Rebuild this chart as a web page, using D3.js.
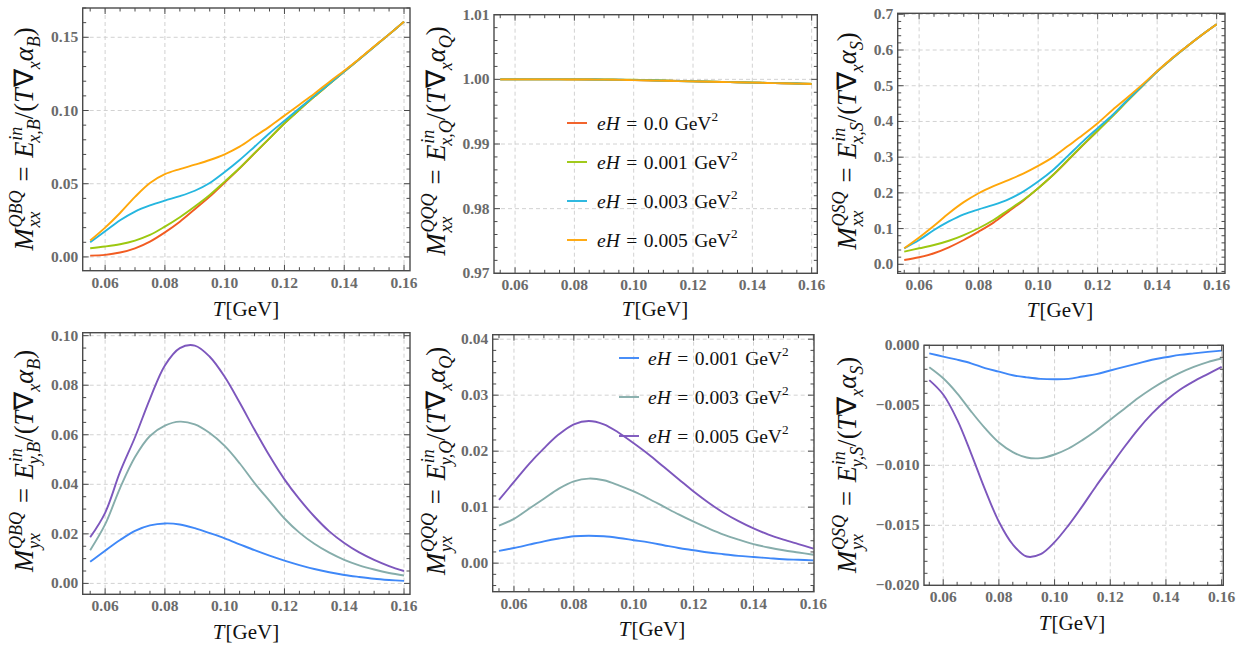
<!DOCTYPE html>
<html><head><meta charset="utf-8">
<script src="https://cdn.jsdelivr.net/npm/d3@7"></script>
<style>
body{margin:0;background:#fff;}
svg{display:block;}
svg text{font-family:"Liberation Serif","Times New Roman","Liberation Sans",sans-serif; white-space:pre;}
</style>
</head><body>
<svg id="c" width="1250" height="648"></svg>
<script>
// ---------------- data ----------------
const T = [0.055,0.060,0.065,0.070,0.075,0.080,0.085,0.090,0.095,0.100,0.105,0.110,0.115,0.120,0.125,0.130,0.135,0.140,0.145,0.150,0.155,0.160];

const topFields = ["0.0","0.001","0.003","0.005"];
const bottomFields = ["0.001","0.003","0.005"];
const topColors = ["#F25C22","#9CC810","#25B6DF","#FFA70A"];
const bottomColors = ["#3F88F8","#86ADAB","#7D57BD"];

// M_xx^{QBQ}
const xxB_0   = [0.0009,0.0014,0.0030,0.0059,0.0105,0.0168,0.0241,0.0326,0.0412,0.0508,0.0605,0.0708,0.0810,0.0913,0.1005,0.1095,0.1180,0.1266,0.1350,0.1435,0.1520,0.1607];
const xxB_001 = [0.0059,0.0071,0.0087,0.0112,0.0150,0.0207,0.0271,0.0344,0.0423,0.0514,0.0607,0.0709,0.0810,0.0913,0.1005,0.1095,0.1180,0.1266,0.1350,0.1435,0.1520,0.1607];
const xxB_003 = [0.0100,0.0175,0.0250,0.0310,0.0352,0.0385,0.0415,0.0452,0.0505,0.0580,0.0662,0.0753,0.0845,0.0930,0.1015,0.1100,0.1183,0.1267,0.1350,0.1435,0.1520,0.1607];
const xxB_005 = [0.0112,0.0200,0.0300,0.0410,0.0505,0.0565,0.0600,0.0630,0.0662,0.0701,0.0753,0.0822,0.0890,0.0965,0.1040,0.1115,0.1195,0.1272,0.1352,0.1437,0.1520,0.1607];

// M_xx^{QQQ}
const xxQ_0   = [1.00000,1.00000,1.00000,1.00000,1.00000,1.00000,0.99998,0.99996,0.99993,0.99990,0.99985,0.99980,0.99975,0.99970,0.99965,0.99960,0.99955,0.99950,0.99945,0.99940,0.99935,0.99930];
const xxQ_001 = [1.00000,1.00000,1.00000,1.00000,1.00000,1.00000,0.99999,0.99998,0.99996,0.99993,0.99988,0.99982,0.99976,0.99971,0.99966,0.99961,0.99956,0.99951,0.99946,0.99941,0.99936,0.99931];
const xxQ_003 = [1.00000,1.00000,1.00000,1.00000,1.00000,0.99999,0.99998,0.99996,0.99993,0.99989,0.99984,0.99979,0.99974,0.99969,0.99964,0.99959,0.99955,0.99950,0.99945,0.99940,0.99935,0.99930];
const xxQ_005 = [1.00000,1.00000,1.00000,1.00000,0.99999,0.99998,0.99997,0.99995,0.99992,0.99988,0.99983,0.99978,0.99973,0.99969,0.99964,0.99959,0.99954,0.99949,0.99944,0.99939,0.99934,0.99929];

// M_xx^{QSQ}
const xxS_0   = [0.0120,0.0196,0.0310,0.0476,0.0680,0.0915,0.1167,0.1475,0.1780,0.2130,0.2500,0.2910,0.3330,0.3740,0.4150,0.4575,0.4990,0.5400,0.5760,0.6100,0.6420,0.6720];
const xxS_001 = [0.0355,0.0448,0.0540,0.0660,0.0820,0.1010,0.1240,0.1520,0.1800,0.2130,0.2500,0.2920,0.3340,0.3740,0.4150,0.4575,0.4990,0.5400,0.5760,0.6100,0.6420,0.6720];
const xxS_003 = [0.0448,0.0680,0.0960,0.1200,0.1400,0.1540,0.1665,0.1820,0.2036,0.2316,0.2640,0.3035,0.3436,0.3810,0.4180,0.4600,0.5000,0.5400,0.5760,0.6100,0.6420,0.6720];
const xxS_005 = [0.0448,0.0750,0.1080,0.1430,0.1740,0.1990,0.2190,0.2360,0.2540,0.2755,0.3000,0.3310,0.3620,0.3950,0.4320,0.4670,0.5030,0.5410,0.5770,0.6100,0.6420,0.6720];

// M_yx^{QBQ}
const yxB_001 = [0.0087,0.0132,0.0175,0.0212,0.0234,0.0242,0.0238,0.0223,0.0203,0.0182,0.0158,0.0134,0.0112,0.0092,0.0074,0.0058,0.0045,0.0034,0.0026,0.0019,0.0014,0.0010];
const yxB_003 = [0.0134,0.0238,0.0385,0.0510,0.0595,0.0637,0.0653,0.0642,0.0607,0.0555,0.0485,0.0405,0.0333,0.0262,0.0205,0.0160,0.0124,0.0095,0.0073,0.0056,0.0042,0.0032];
const yxB_005 = [0.0186,0.0285,0.0450,0.0590,0.0745,0.0880,0.0950,0.0960,0.0915,0.0834,0.0730,0.0620,0.0515,0.0420,0.0340,0.0270,0.0210,0.0163,0.0125,0.0095,0.0070,0.0050];

// M_yx^{QQQ}
const yxQ_001 = [0.0022,0.0027,0.0033,0.0039,0.0044,0.0048,0.0049,0.0048,0.0045,0.0041,0.0037,0.0032,0.0027,0.0023,0.0019,0.0016,0.0013,0.0011,0.0009,0.0007,0.0006,0.0005];
const yxQ_003 = [0.0067,0.0079,0.0097,0.0115,0.0133,0.0146,0.0151,0.0148,0.0139,0.0128,0.0115,0.0101,0.0087,0.0074,0.0062,0.0051,0.0042,0.0034,0.0028,0.0023,0.0019,0.0015];
const yxQ_005 = [0.0113,0.0145,0.0177,0.0205,0.0230,0.0248,0.0254,0.0248,0.0233,0.0214,0.0194,0.0172,0.0150,0.0128,0.0108,0.0090,0.0075,0.0062,0.0051,0.0042,0.0034,0.0026];

// M_yx^{QSQ}
const yxS_001 = [-0.00067,-0.00094,-0.0012,-0.0015,-0.0019,-0.0022,-0.0025,-0.00267,-0.0028,-0.00283,-0.0028,-0.0026,-0.0024,-0.0021,-0.0018,-0.0015,-0.0012,-0.0010,-0.0008,-0.00067,-0.00055,-0.00044];
const yxS_003 = [-0.00183,-0.00275,-0.0040,-0.0055,-0.0069,-0.0081,-0.0089,-0.00935,-0.0094,-0.0091,-0.0086,-0.0079,-0.0071,-0.0062,-0.0053,-0.0044,-0.0036,-0.0029,-0.0023,-0.0018,-0.0014,-0.0011];
const yxS_005 = [-0.0029,-0.0041,-0.0062,-0.0090,-0.0120,-0.0147,-0.0166,-0.0176,-0.0174,-0.0164,-0.0150,-0.0134,-0.0117,-0.0101,-0.0085,-0.0070,-0.0057,-0.0046,-0.0037,-0.0030,-0.0024,-0.0018];

// ticks
const xTicks = [0.06,0.08,0.10,0.12,0.14,0.16];
const xTickLabels = ["0.06","0.08","0.10","0.12","0.14","0.16"];
const yTicks1 = [0,0.05,0.10,0.15];          const yLabels1 = ["0.00","0.05","0.10","0.15"];
const yTicks2 = [0.97,0.98,0.99,1.00,1.01];   const yLabels2 = ["0.97","0.98","0.99","1.00","1.01"];
const yTicks3 = [0,0.1,0.2,0.3,0.4,0.5,0.6,0.7]; const yLabels3 = ["0.0","0.1","0.2","0.3","0.4","0.5","0.6","0.7"];
const yTicks4 = [0,0.02,0.04,0.06,0.08,0.10]; const yLabels4 = ["0.00","0.02","0.04","0.06","0.08","0.10"];
const yTicks5 = [0,0.01,0.02,0.03,0.04];      const yLabels5 = ["0.00","0.01","0.02","0.03","0.04"];
const yTicks6 = [0,-0.005,-0.010,-0.015,-0.020]; const yLabels6 = ["0.000","\u22120.005","\u22120.010","\u22120.015","\u22120.020"];

// ---------------- layout ----------------
const svg = d3.select("#c");
const SP = "\u2004";

const panels = [
  {box:[82.7,410,8,270.7],   xd:[0.0525,0.162],  yd:[-0.0094,0.170],  yt:yTicks1, yl:yLabels1, ym:0.01,
   series:[xxB_0,xxB_001,xxB_003,xxB_005], colors:topColors,
   lab:{sup:"QBQ",sub:"xx",E:"x,B",a:"B"}, ylab:[33,139], xlab:[246,316]},
  {box:[494,817.3,14.7,273.3], xd:[0.0529,0.1619], yd:[0.97,1.01],   yt:yTicks2, yl:yLabels2, ym:0.002,
   series:[xxQ_0,xxQ_001,xxQ_003,xxQ_005], colors:topColors,
   lab:{sup:"QQQ",sub:"xx",E:"x,Q",a:"Q"}, ylab:[445,141], xlab:[655,316],
   legend:{fields:topFields, colors:topColors, x0:567, x1:587, tx:597, ys:[123,162,201,240]}},
  {box:[897.7,1225,13.3,273.3], xd:[0.0528,0.1628], yd:[-0.0252,0.7028], yt:yTicks3, yl:yLabels3, ym:0.02,
   series:[xxS_0,xxS_001,xxS_003,xxS_005], colors:topColors,
   lab:{sup:"QSQ",sub:"xx",E:"x,S",a:"S"}, ylab:[856,141], xlab:[1060,317]},
  {box:[82.7,410,332.7,594.3], xd:[0.0525,0.162], yd:[-0.0044,0.1012], yt:yTicks4, yl:yLabels4, ym:0.005,
   series:[yxB_001,yxB_003,yxB_005], colors:bottomColors,
   lab:{sup:"QBQ",sub:"yx",E:"y,B",a:"B"}, ylab:[33,461], xlab:[246,639]},
  {box:[492.7,814,334.7,591.7], xd:[0.0529,0.1602], yd:[-0.0051,0.0408], yt:yTicks5, yl:yLabels5, ym:0.002,
   series:[yxQ_001,yxQ_003,yxQ_005], colors:bottomColors,
   lab:{sup:"QQQ",sub:"yx",E:"y,Q",a:"Q"}, ylab:[445,461], xlab:[652,636],
   legend:{fields:bottomFields, colors:bottomColors, x0:619, x1:639, tx:648, ys:[358,397,436]}},
  {box:[924,1223.3,345.3,585.3], xd:[0.0531,0.1606], yd:[-0.020,0], yt:yTicks6, yl:yLabels6, ym:0.001,
   series:[yxS_001,yxS_003,yxS_005], colors:bottomColors,
   lab:{sup:"QSQ",sub:"yx",E:"y,S",a:"S"}, ylab:[856,465], xlab:[1072,630]}
];

function mathText(parent, tokens, fs, anchor) {
  const outer = parent.append("g");
  const g = outer.append("g");
  let x = 0;
  tokens.forEach(tk => {
    const t = g.append("text").attr("x", x).attr("y", 0)
      .style("font-size", fs + "px")
      .style("font-style", tk.i ? "italic" : "normal").attr("fill", "#111").text(tk.s);
    x += t.node().getComputedTextLength() + (tk.after || 0);
    let sw = 0;
    if (tk.sup) {
      const s = g.append("text").attr("x", x + (tk.supdx || 0)).attr("y", -fs * 0.42)
        .style("font-size", (fs * 0.68) + "px")
        .style("font-style", tk.supUp ? "normal" : "italic").attr("fill", "#111").text(tk.sup);
      sw = Math.max(sw, s.node().getComputedTextLength() + (tk.supdx || 0));
    }
    if (tk.sub) {
      const s = g.append("text").attr("x", x + (tk.subdx || 0)).attr("y", fs * 0.28)
        .style("font-size", (fs * 0.68) + "px")
        .style("font-style", "italic").attr("fill", "#111").text(tk.sub);
      sw = Math.max(sw, s.node().getComputedTextLength() + (tk.subdx || 0));
    }
    x += sw + (tk.post || 0);
  });
  if (anchor === "middle") g.attr("transform", `translate(${-x / 2},0)`);
  return outer;
}

panels.forEach((p, pi) => {
  const [L, R, Tp, B] = p.box;
  const x = d3.scaleLinear().domain(p.xd).range([L, R]);
  const y = d3.scaleLinear().domain(p.yd).range([B, Tp]);
  const g = svg.append("g");
  const clipId = "clip" + pi;
  g.append("clipPath").attr("id", clipId).append("rect")
    .attr("x", L).attr("y", Tp).attr("width", R - L).attr("height", B - Tp);

  const grid = g.append("g").attr("stroke", "#d2d2d2").attr("stroke-width", 1).attr("stroke-dasharray", "4,3").attr("fill", "none");
  xTicks.forEach(v => { if (x(v) > L + 0.5 && x(v) < R - 0.5) grid.append("line").attr("x1", x(v)).attr("x2", x(v)).attr("y1", Tp).attr("y2", B); });
  p.yt.forEach(v => { if (y(v) > Tp + 0.5 && y(v) < B - 0.5) grid.append("line").attr("y1", y(v)).attr("y2", y(v)).attr("x1", L).attr("x2", R); });

  const line = d3.line().x((d, i) => x(T[i])).y(d => y(d)).curve(d3.curveCatmullRom.alpha(0.5));
  const cg = g.append("g").attr("clip-path", `url(#${clipId})`);
  p.series.forEach((s, si) => {
    cg.append("path").datum(s).attr("d", line).attr("fill", "none")
      .attr("stroke", p.colors[si]).attr("stroke-width", 1.9).attr("stroke-linejoin", "round");
  });

  g.append("rect").attr("x", L).attr("y", Tp).attr("width", R - L).attr("height", B - Tp)
    .attr("fill", "none").attr("stroke", "#4a4a4a").attr("stroke-width", 1.4);

  const tk = g.append("g").attr("stroke", "#4a4a4a").attr("stroke-width", 1);
  const eps = 1e-9;
  const xMinor = d3.range(0.055, 0.1625, 0.005).filter(v => v >= p.xd[0] && v <= p.xd[1]);
  xMinor.forEach(v => {
    const major = xTicks.some(t => Math.abs(t - v) < 1e-6);
    const len = major ? 6 : 3.5;
    tk.append("line").attr("x1", x(v)).attr("x2", x(v)).attr("y1", B).attr("y2", B - len);
    tk.append("line").attr("x1", x(v)).attr("x2", x(v)).attr("y1", Tp).attr("y2", Tp + len);
  });
  const y0 = Math.ceil(p.yd[0] / p.ym - eps), y1 = Math.floor(p.yd[1] / p.ym + eps);
  for (let k = y0; k <= y1; k++) {
    const v = k * p.ym;
    const major = p.yt.some(t => Math.abs(t - v) < p.ym * 0.01);
    const len = major ? 6 : 3.5;
    tk.append("line").attr("y1", y(v)).attr("y2", y(v)).attr("x1", L).attr("x2", L + len);
    tk.append("line").attr("y1", y(v)).attr("y2", y(v)).attr("x1", R).attr("x2", R - len);
  }

  const lab = g.append("g").style("font-size", "15.5px")
    .style("font-weight", "bold").attr("fill", "#6b6b6b");
  xTicks.forEach((v, i) => {
    lab.append("text").attr("x", x(v)).attr("y", B + 17).attr("text-anchor", "middle").text(xTickLabels[i]);
  });
  p.yt.forEach((v, i) => {
    lab.append("text").attr("x", L - 4.5).attr("y", y(v) + 5).attr("text-anchor", "end").text(p.yl[i]);
  });

  const xl = mathText(g, [{s:"T", i:1, after:1}, {s:"[GeV]"}], 21, "middle");
  xl.attr("transform", `translate(${p.xlab[0]},${p.xlab[1]})`);

  const yl = mathText(g, [
    {s:"M", i:1, sup:p.lab.sup, sub:p.lab.sub, after:1},
    {s:SP + "=" + SP},
    {s:"E", i:1, sup:"in", sub:p.lab.E, subdx:-2, after:1},
    {s:"/("},
    {s:"T", i:1, after:1},
    {s:"\u2207", sub:"x"},
    {s:"\u03B1", i:1, sub:p.lab.a},
    {s:")"}
  ], 26.5, "middle");
  yl.attr("transform", `translate(${p.ylab[0]},${p.ylab[1]}) rotate(-90)`);

  if (p.legend) {
    const lg = p.legend;
    lg.fields.forEach((f, i) => {
      g.append("line").attr("x1", lg.x0).attr("x2", lg.x1).attr("y1", lg.ys[i]).attr("y2", lg.ys[i])
        .attr("stroke", lg.colors[i]).attr("stroke-width", 1.9);
      const t = mathText(g, [{s:"eH", i:1}, {s:SP + "=" + SP + f + "\u2004GeV", sup:"2", supUp:true}], 19.5, "start");
      t.attr("transform", `translate(${lg.tx},${lg.ys[i] + 6.5})`);
    });
  }
});
</script>
</body></html>
